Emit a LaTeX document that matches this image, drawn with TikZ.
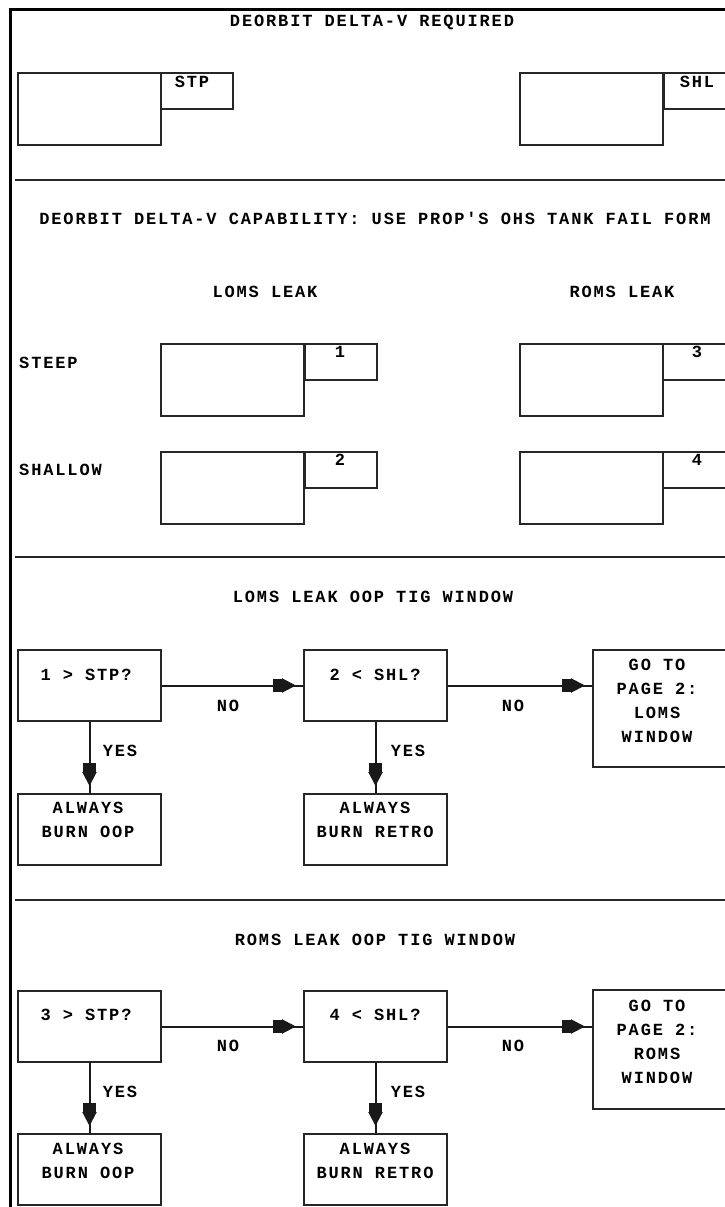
\documentclass[tikz,border=0pt]{standalone}
\usepackage{fontspec}
\newfontfamily\dfont[LetterSpace=11]{Liberation Mono}
\usetikzlibrary{arrows.meta,decorations.markings}
\tikzset{
  txt/.style={font=\dfont\bfseries\fontsize{17}{24}\selectfont, inner sep=0pt, anchor=center},
  ltxt/.style={txt, anchor=west},
  frame/.style={line width=3pt, black},
  divider/.style={line width=2pt, black!85},
  box/.style={draw=black!85, line width=2pt, inner sep=0pt, anchor=north west},
  bigbox/.style={box, minimum width=143pt, minimum height=72pt},
  smallbox/.style={box, minimum width=72pt, minimum height=36pt},
  qbox/.style={box, minimum width=143pt, minimum height=71pt},
  gobox/.style={box, minimum width=143pt, minimum height=117pt},
  conn/.style={line width=2pt, black!90, postaction={decorate},
    decoration={markings, mark=at position -7pt with
      {\arrow{Rectangle[length=9pt,width=13pt] Triangle[length=14pt,width=14pt]}}}}
}
\begin{document}
\begin{tikzpicture}[x=1pt,y=-1pt]
\useasboundingbox (0,0) rectangle (725,1207);
\clip (0,0) rectangle (725,1207);
\fill[white] (0,0) rectangle (725,1207);
% frame
\draw[frame] (725,10) -- (10,10) -- (10,1207);
% ---------- section 1
\node[txt] (t1) at (372,22) {DEORBIT DELTA-V REQUIRED};
\node[bigbox] (stpbig) at (17,72) {};
\node[smallbox] (stpsm) at (160,72) {};
\node[txt] (stptxt) at (192,82) {STP};
\node[bigbox] (shlbig) at (519,72) {};
\node[smallbox] (shlsm) at (663,72) {};
\node[txt] (shltxt) at (697,82) {SHL};
\draw[divider] (15,180) -- (725,180);
% ---------- section 2
\node[txt] (t2) at (375,218) {DEORBIT DELTA-V CAPABILITY: USE PROP'S OHS TANK FAIL FORM};
\node[txt] (loms) at (265,292) {LOMS LEAK};
\node[txt] (roms) at (622,292) {ROMS LEAK};
\node[ltxt] (steep) at (19,363) {STEEP};
\node[ltxt] (shallow) at (19,470) {SHALLOW};
\node[bigbox] (b1big) at (160,343) {};
\node[smallbox] (b1sm) at (304,343) {};
\node[txt] (n1) at (340,352) {1};
\node[bigbox] (b2big) at (160,451) {};
\node[smallbox] (b2sm) at (304,451) {};
\node[txt] (n2) at (340,460) {2};
\node[bigbox] (b3big) at (519,343) {};
\node[smallbox] (b3sm) at (662,343) {};
\node[txt] (n3) at (697,352) {3};
\node[bigbox] (b4big) at (519,451) {};
\node[smallbox] (b4sm) at (662,451) {};
\node[txt] (n4) at (697,460) {4};
\draw[divider] (15,557) -- (725,557);
% ---------- section 3
\node[txt] (t3) at (373,597) {LOMS LEAK OOP TIG WINDOW};
\node[qbox] (q1) at (17,649) {};
\node[txt] (q1t) at (86,675) {1 > STP?};
\node[qbox] (q2) at (303,649) {};
\node[txt] (q2t) at (375,675) {2 < SHL?};
\node[gobox] (g1) at (592,649) {};
\node[txt, align=center] (g1t) at (657,701) {GO TO\\PAGE 2:\\LOMS\\WINDOW};
\node[qbox] (r1) at (17,793) {};
\node[txt, align=center] (r1t) at (88,820) {ALWAYS\\BURN OOP};
\node[qbox] (r2) at (303,793) {};
\node[txt, align=center] (r2t) at (375,820) {ALWAYS\\BURN RETRO};
\draw[conn] (q1.east) -- (q2.west);
\draw[conn] (q2.east) -- (q2.east -| g1.west);
\draw[conn] (q1.south) -- (r1.north);
\draw[conn] (q2.south) -- (r2.north);
\node[txt] (no1) at (228,706) {NO};
\node[txt] (no2) at (513,706) {NO};
\node[txt] (yes1) at (120,751) {YES};
\node[txt] (yes2) at (408,751) {YES};
\draw[divider] (15,900) -- (725,900);
% ---------- section 4
\node[txt] (t4) at (375,940) {ROMS LEAK OOP TIG WINDOW};
\node[qbox] (q3) at (17,990) {};
\node[txt] (q3t) at (86,1015) {3 > STP?};
\node[qbox] (q4) at (303,990) {};
\node[txt] (q4t) at (375,1015) {4 < SHL?};
\node[gobox, minimum height=119pt] (g2) at (592,989) {};
\node[txt, align=center] (g2t) at (657,1042) {GO TO\\PAGE 2:\\ROMS\\WINDOW};
\node[qbox] (r3) at (17,1133) {};
\node[txt, align=center] (r3t) at (88,1161) {ALWAYS\\BURN OOP};
\node[qbox] (r4) at (303,1133) {};
\node[txt, align=center] (r4t) at (375,1161) {ALWAYS\\BURN RETRO};
\draw[conn] (q3.east) -- (q4.west);
\draw[conn] (q4.east) -- (q4.east -| g2.west);
\draw[conn] (q3.south) -- (r3.north);
\draw[conn] (q4.south) -- (r4.north);
\node[txt] (no3) at (228,1046) {NO};
\node[txt] (no4) at (513,1046) {NO};
\node[txt] (yes3) at (120,1092) {YES};
\node[txt] (yes4) at (408,1092) {YES};
\end{tikzpicture}
\end{document}
